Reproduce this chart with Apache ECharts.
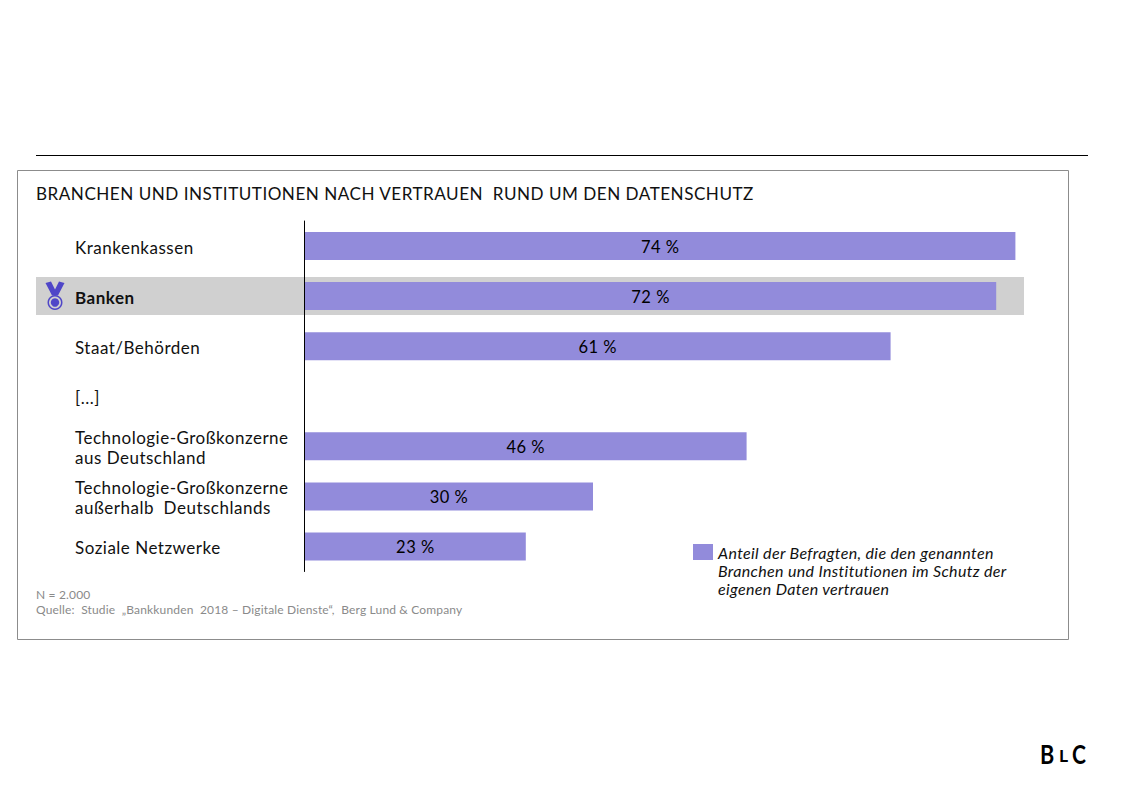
<!DOCTYPE html>
<html><head><meta charset="utf-8">
<style>html,body{margin:0;padding:0;background:#fff}#c{width:1123px;height:794px;letter-spacing:.5px}
text[style*="12px"]{letter-spacing:.16px}
text[style*="italic"]{letter-spacing:.35px}
text[style*="27px"],text[style*="17.5px"]{letter-spacing:0}
</style>
<script src="https://cdn.jsdelivr.net/npm/echarts@6/dist/echarts.min.js"></script>
</head><body><div id="c"></div>
<script>
const categories = ["Krankenkassen","Banken","Staat/Behörden","[...]","Technologie-Großkonzerne\naus Deutschland","Technologie-Großkonzerne\naußerhalb  Deutschlands","Soziale Netzwerke"];
const values = [74,72,61,null,46,30,23];
const seriesName = "Anteil der Befragten, die den genannten\nBranchen und Institutionen im Schutz der\neigenen Daten vertrauen";
const titleText = "BRANCHEN UND INSTITUTIONEN NACH VERTRAUEN  RUND UM DEN DATENSCHUTZ";
const noteText = "N = 2.000";
const sourceText = "Quelle:  Studie  „Bankkunden  2018 – Digitale Dienste“,  Berg Lund & Company";
const FONT = "Lato";
const BAR = "#928bdb", MEDAL = "#4f46c8";
const chart = echarts.init(document.getElementById('c'), null, {renderer:'svg'});
chart.setOption({
  animation:false,
  textStyle:{fontFamily:FONT},
  grid:{left:305,top:221,width:720,height:350.5,containLabel:false},
  xAxis:{type:'value',min:0,max:75,show:false},
  yAxis:{type:'category',inverse:true,data:categories,offset:1,z:5,
    axisLine:{show:true,onZero:false,lineStyle:{color:'#000',width:1}},axisTick:{show:false},
    axisLabel:{align:'left',margin:229,fontFamily:FONT,fontSize:17,lineHeight:20,color:'#111',padding:[2,0,0,0],
      formatter:v=>v==='Banken'?'{b|Banken}':v,
      rich:{b:{fontFamily:FONT,fontSize:17,fontWeight:'bold',color:'#111'}}}},
  legend:{left:688,top:502,itemWidth:20,itemHeight:16,itemGap:0,icon:'rect',orient:'vertical',
    data:[seriesName],selectedMode:false,formatter:n=>'\n\n'+n,
    textStyle:{fontFamily:FONT,fontStyle:'italic',fontSize:16,lineHeight:18,color:'#111'}},
  series:[{type:'bar',name:seriesName,data:values,barWidth:28,itemStyle:{color:BAR},z:3,
    label:{show:true,position:'inside',formatter:'{c} %',fontFamily:FONT,fontSize:16.5,color:'#000',offset:[0,1]}}],
  graphic:[
    {type:'line',silent:true,shape:{x1:36,y1:155.5,x2:1088,y2:155.5},style:{stroke:'#000',lineWidth:1}},
    {type:'rect',silent:true,shape:{x:17.5,y:170.5,width:1051,height:469},style:{fill:'none',stroke:'#8c8c8c',lineWidth:1}},
    {type:'rect',silent:true,z:-1,shape:{x:36,y:277,width:988,height:38},style:{fill:'#d0d0d0'}},
    {type:'text',silent:true,left:36,top:185,style:{text:titleText,font:'17.1px '+FONT,fill:'#111'}},
    {type:'text',silent:true,left:36,top:588,style:{text:noteText,font:'12px '+FONT,fill:'#8a8a8a'}},
    {type:'text',silent:true,left:36,top:603,style:{text:sourceText,font:'12px '+FONT,fill:'#8a8a8a'}},
    {type:'polygon',silent:true,shape:{points:[[45.5,283],[51,281.5],[55,289.5],[59,281.5],[64.5,283],[58,295.5],[52,295.5]]},style:{fill:MEDAL}},
    {type:'ring',silent:true,shape:{cx:55,cy:302.5,r:7.5,r0:6},style:{fill:MEDAL}},
    {type:'circle',silent:true,shape:{cx:55,cy:302.5,r:4.2},style:{fill:MEDAL}},
    {type:'text',silent:true,x:1040,y:739.5,scaleX:0.8,style:{text:'B',font:'bold 27px '+FONT,fill:'#000'}},
    {type:'text',silent:true,x:1059,y:746.5,scaleX:1,style:{text:'L',font:'bold 17.5px '+FONT,fill:'#000'}},
    {type:'text',silent:true,x:1072,y:739.5,scaleX:0.78,style:{text:'C',font:'bold 27px '+FONT,fill:'#000'}}
  ]
});
</script></body></html>
